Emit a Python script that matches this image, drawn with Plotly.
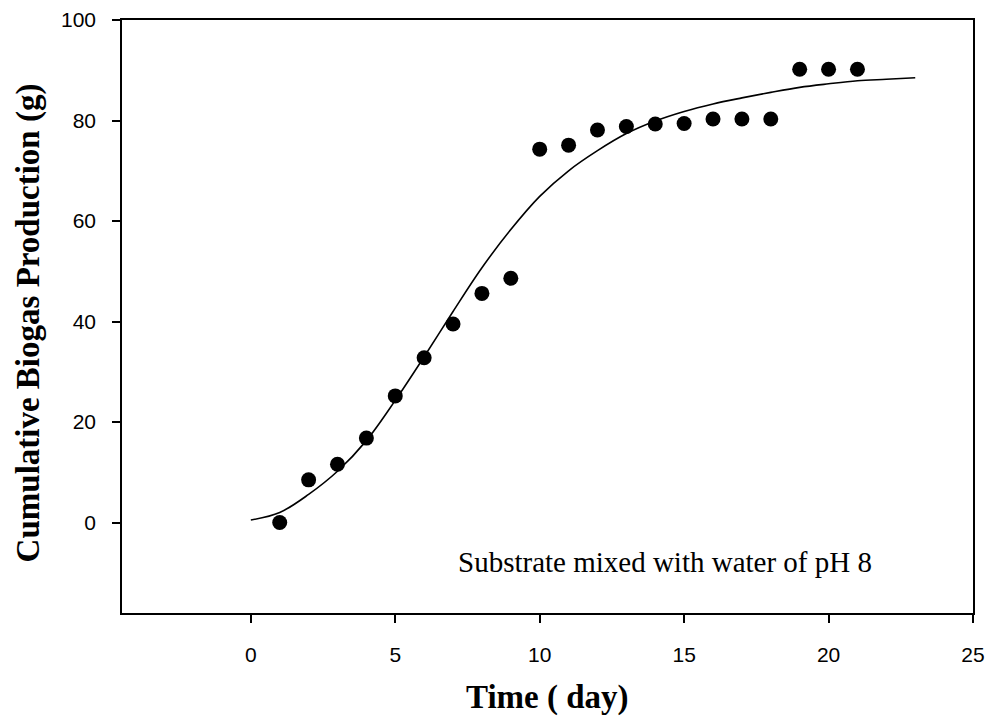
import plotly.graph_objects as go

# Observed data (day, cumulative biogas g)
obs_day = [1, 2, 3, 4, 5, 6, 7, 8, 9, 10, 11, 12, 13, 14, 15, 16, 17, 18, 19, 20, 21]
obs_biogas = [0.0, 8.5, 11.6, 16.8, 25.2, 32.8, 39.5, 45.6, 48.6, 74.3, 75.1, 78.1, 78.8,
              79.3, 79.4, 80.3, 80.3, 80.3, 90.2, 90.2, 90.2]

# Fitted curve
fit_day = [0, 1, 2, 3, 4, 5, 6, 7, 8, 9, 10, 11, 12, 13, 14, 15, 16, 17, 18, 19, 20, 21, 22, 23]
fit_biogas = [0.5, 2.0, 5.6, 10.2, 16.3, 24.3, 33.0, 42.0, 50.7, 58.3, 64.9, 70.0, 74.0,
              77.4, 79.9, 81.8, 83.3, 84.5, 85.6, 86.6, 87.3, 87.9, 88.2, 88.5]

x_ticks = [0, 5, 10, 15, 20, 25]
y_ticks = [0, 20, 40, 60, 80, 100]

x_title = "<b>Time ( day)</b>"
y_title = "<b>Cumulative Biogas Production (g)</b>"
note = "Substrate mixed with water of pH 8"

fig = go.Figure()
fig.add_trace(go.Scatter(x=fit_day, y=fit_biogas, mode="lines",
                         line=dict(color="black", width=1.6, shape="spline"),
                         showlegend=False, hoverinfo="skip"))
fig.add_trace(go.Scatter(x=obs_day, y=obs_biogas, mode="markers",
                         marker=dict(color="black", size=15),
                         showlegend=False))

fig.add_annotation(x=14.35, y=-7.9, xref="x", yref="y",
                   text=note, showarrow=False,
                   font=dict(family="Liberation Serif", size=29, color="black"))

# axis titles
fig.add_annotation(x=0.5, y=-0.1433, xref="paper", yref="paper",
                   xanchor="center", yanchor="middle", showarrow=False,
                   text=x_title, font=dict(family="Liberation Serif", size=33, color="black"))
fig.add_annotation(x=-0.1105, y=0.49, xref="paper", yref="paper",
                   xanchor="center", yanchor="middle", showarrow=False, textangle=-90,
                   text=y_title, font=dict(family="Liberation Serif", size=33, color="black"))

axis_common = dict(ticks="outside", ticklen=8, tickwidth=1.5, tickcolor="black",
                   showgrid=False, zeroline=False, showline=True, linecolor="black",
                   linewidth=1.5, mirror=True, automargin=False,
                   tickfont=dict(size=21, family="Liberation Sans", color="black"))

fig.update_layout(
    width=988, height=718,
    margin=dict(l=122, r=15, t=20, b=105),
    paper_bgcolor="white", plot_bgcolor="white",
    font=dict(family="Liberation Sans", color="black"),
    xaxis=dict(range=[-4.46, 25], tickvals=x_ticks, ticklabelstandoff=14, **axis_common),
    yaxis=dict(range=[-18, 100], tickvals=y_ticks, ticklabelstandoff=12, **axis_common),
)

fig.write_html("out.html", config={"displayModeBar": False},
               post_script="document.body.style.margin='0px';")
